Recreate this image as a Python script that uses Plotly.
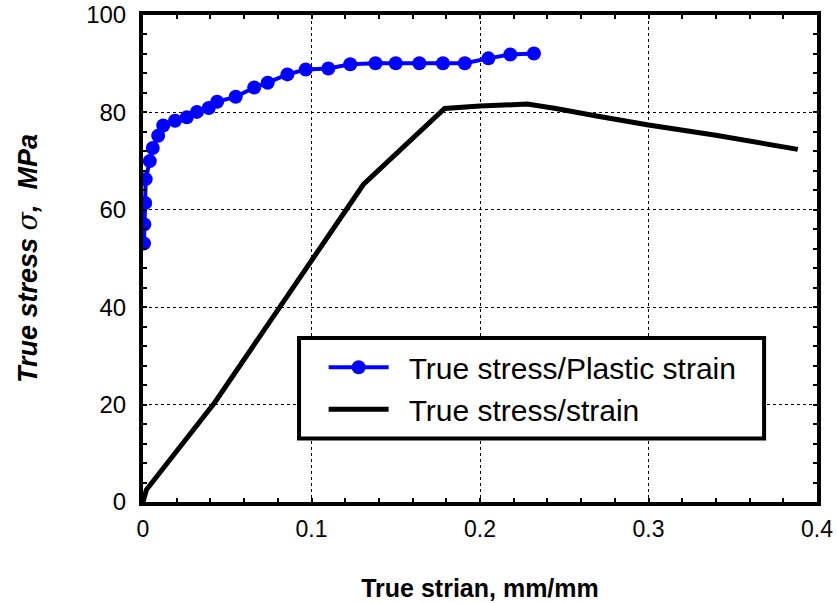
import plotly.graph_objects as go

# True stress vs plastic strain (blue, with markers)
plastic_strain = [0.0006, 0.0008, 0.0013, 0.0016, 0.004, 0.0058, 0.009, 0.012,
                  0.019, 0.026, 0.032, 0.039, 0.044, 0.055, 0.066, 0.074,
                  0.0857, 0.0966, 0.110, 0.123, 0.138, 0.150, 0.164, 0.178,
                  0.191, 0.205, 0.218, 0.232]
plastic_stress = [53.1, 57.0, 61.4, 66.3, 70.0, 72.7, 75.2, 77.3,
                  78.3, 79.0, 80.1, 80.9, 82.2, 83.2, 85.1, 86.1,
                  87.8, 88.8, 89.0, 89.9, 90.1, 90.1, 90.1, 90.1,
                  90.1, 91.1, 91.9, 92.1]

# True stress vs true strain (black line)
true_strain = [0.0, 0.002, 0.0427, 0.1308, 0.179, 0.20, 0.228, 0.245,
               0.27, 0.30, 0.34, 0.3886]
true_stress = [0.0, 2.5, 20.5, 65.2, 80.8, 81.3, 81.7, 80.8,
               79.2, 77.4, 75.3, 72.4]

x_ticks = [0, 0.1, 0.2, 0.3, 0.4]
y_ticks = [0, 20, 40, 60, 80, 100]

font_family = "Liberation Sans, Arial, sans-serif"

fig = go.Figure()

fig.add_trace(go.Scatter(
    x=plastic_strain, y=plastic_stress,
    mode="lines+markers",
    name="\u2002True stress/Plastic strain",
    line=dict(color="#0000ff", width=4),
    marker=dict(color="#0000ff", size=14),
))

fig.add_trace(go.Scatter(
    x=true_strain, y=true_stress,
    mode="lines",
    name="\u2002True stress/strain",
    line=dict(color="black", width=5),
))

axis_common = dict(
    showline=True, linecolor="black", linewidth=4, mirror="allticks",
    showgrid=True, gridcolor="black", gridwidth=1, griddash="3px,3px",
    ticks="inside", ticklen=4, tickcolor="black", tickwidth=2,
    zeroline=False, automargin=False, ticklabeloverflow="allow",
)

fig.update_xaxes(
    range=[0, 0.4], tickvals=x_ticks, ticktext=["0", "0.1", "0.2", "0.3", "0.4"],
    minor=dict(dtick=0.02, ticks="inside", ticklen=4, tickcolor="black",
               tickwidth=2, showgrid=False),
    tickfont=dict(family=font_family, size=23, color="black"),
    ticklabelstandoff=3,
    title=dict(text="<b>True strian, mm/mm</b>",
               font=dict(family=font_family, size=25, color="black"),
               standoff=40),
    **axis_common,
)

fig.update_yaxes(
    range=[0, 100], tickvals=y_ticks,
    minor=dict(dtick=4, ticks="inside", ticklen=4, tickcolor="black",
               tickwidth=2, showgrid=False),
    tickfont=dict(family=font_family, size=24, color="black"),
    ticklabelstandoff=8,
    title=dict(text="<b><i>True stress </i></b><i><span style='font-family:DejaVu Serif'>σ</span></i><b><i>,  MPa</i></b>",
               font=dict(family=font_family, size=27, color="black"),
               standoff=42),
    **axis_common,
)

# legend frame
fig.add_shape(type="rect", xref="paper", yref="paper",
              x0=0.2315, x1=0.9215, y0=0.1306, y1=0.3367,
              line=dict(color="black", width=4), fillcolor="white",
              layer="above")

fig.update_layout(
    width=837, height=603,
    margin=dict(l=143, r=20, t=15, b=101),
    paper_bgcolor="white", plot_bgcolor="white",
    showlegend=True,
    legend=dict(x=0.268, y=0.33, xanchor="left", yanchor="top",
                bgcolor="rgba(0,0,0,0)", borderwidth=0,
                itemwidth=60, tracegroupgap=0,
                font=dict(family=font_family, size=30, color="black")),
)

fig.write_html("out.html", config={"displayModeBar": False},
               post_script="document.body.style.margin='0';")
